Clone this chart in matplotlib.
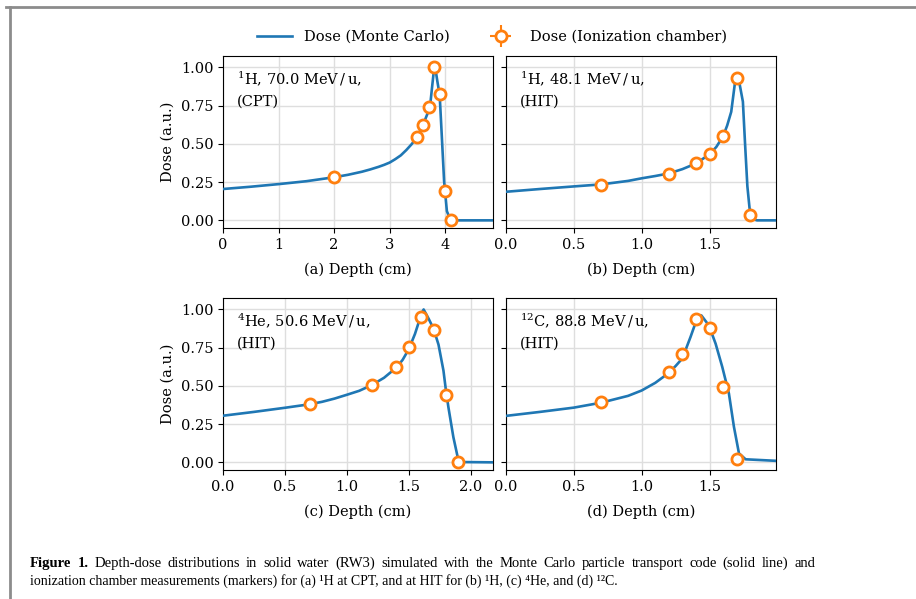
import numpy as np
import matplotlib
matplotlib.use('Agg')
import matplotlib.pyplot as plt
from matplotlib.lines import Line2D
from matplotlib.ticker import FormatStrFormatter
from matplotlib.container import ErrorbarContainer
from matplotlib.legend_handler import HandlerErrorbar

plt.rcParams['font.family'] = ['DejaVu Serif']
plt.rcParams['mathtext.fontset'] = 'dejavuserif'
plt.rcParams['font.size'] = 10.5

# ── Monte Carlo depth-dose curves (depth in cm, dose normalised) ────────────
mc_depth_a = [0.0, 0.5, 1.0, 1.5, 2.0, 2.25, 2.5, 2.65, 2.8, 2.9, 3.0, 3.1,
              3.2, 3.3, 3.4, 3.5, 3.6, 3.7, 3.73, 3.76, 3.79, 3.82, 3.86, 3.9,
              3.94, 3.98, 4.03, 4.09, 4.2, 4.5, 4.86]
mc_dose_a = [0.205, 0.22, 0.237, 0.256, 0.282, 0.298, 0.318, 0.333, 0.35,
             0.363, 0.378, 0.40, 0.425, 0.46, 0.5, 0.55, 0.625, 0.715, 0.755,
             0.86, 0.96, 1.0, 0.906, 0.82, 0.54, 0.256, 0.06, 0.006, 0.0, 0.0,
             0.0]

mc_depth_b = [0.0, 0.25, 0.5, 0.7, 0.9, 1.0, 1.1, 1.2, 1.3, 1.4, 1.5, 1.55,
              1.6, 1.63, 1.66, 1.69, 1.705, 1.72, 1.746, 1.762, 1.779, 1.795,
              1.816, 1.835, 1.85, 1.99]
mc_dose_b = [0.187, 0.205, 0.222, 0.235, 0.258, 0.275, 0.29, 0.307, 0.335,
             0.372, 0.432, 0.48, 0.55, 0.62, 0.71, 0.917, 0.956, 0.9, 0.776,
             0.5, 0.223, 0.08, 0.018, 0.004, 0.0, 0.0]

mc_depth_c = [0.0, 0.25, 0.5, 0.7, 0.8, 0.9, 1.0, 1.1, 1.2, 1.3, 1.4, 1.45,
              1.5, 1.55, 1.585, 1.6, 1.62, 1.66, 1.7, 1.74, 1.78, 1.8, 1.82,
              1.86, 1.9, 1.93, 2.18]
mc_dose_c = [0.305, 0.33, 0.357, 0.38, 0.396, 0.417, 0.442, 0.468, 0.505,
             0.553, 0.62, 0.67, 0.74, 0.84, 0.928, 0.97, 1.0, 0.94, 0.874,
             0.77, 0.6, 0.47, 0.36, 0.165, 0.015, 0.002, 0.0]

mc_depth_d = [0.0, 0.25, 0.5, 0.7, 0.9, 1.0, 1.1, 1.2, 1.25, 1.3, 1.36, 1.4,
              1.44, 1.495, 1.545, 1.594, 1.643, 1.68, 1.717, 1.766, 1.99]
mc_dose_d = [0.304, 0.33, 0.358, 0.39, 0.435, 0.47, 0.52, 0.585, 0.63, 0.68,
             0.82, 0.92, 0.961, 0.896, 0.776, 0.624, 0.45, 0.232, 0.059, 0.02,
             0.01]

# ── Ionization chamber measurements ─────────────────────────────────────────
ic_depth_a = [2.0, 3.5, 3.6, 3.7, 3.8, 3.9, 4.0, 4.1]
ic_dose_a = [0.283, 0.546, 0.623, 0.74, 1.0, 0.824, 0.195, 0.0]

ic_depth_b = [0.7, 1.2, 1.4, 1.5, 1.6, 1.7, 1.8]
ic_dose_b = [0.232, 0.306, 0.375, 0.436, 0.555, 0.93, 0.035]

ic_depth_c = [0.7, 1.2, 1.4, 1.5, 1.6, 1.7, 1.8, 1.9]
ic_dose_c = [0.38, 0.504, 0.624, 0.754, 0.95, 0.863, 0.439, 0.004]

ic_depth_d = [0.7, 1.2, 1.3, 1.4, 1.5, 1.6, 1.7]
ic_dose_d = [0.395, 0.591, 0.706, 0.939, 0.878, 0.493, 0.022]

# positioning and dose uncertainties of the chamber
depth_err = 0.01
dose_err = 0.01

beam_labels = ['$^{1}$H, 70.0 MeV$\\,/\\,$u,\n(CPT)',
               '$^{1}$H, 48.1 MeV$\\,/\\,$u,\n(HIT)',
               '$^{4}$He, 50.6 MeV$\\,/\\,$u,\n(HIT)',
               '$^{12}$C, 88.8 MeV$\\,/\\,$u,\n(HIT)']
panel_letters = ['a', 'b', 'c', 'd']
depth_limits = [4.86, 1.99, 2.18, 1.99]

caption_line1 = ('Depth-dose distributions in solid water (RW3) simulated with the '
                 'Monte Carlo particle transport code (solid line) and')
caption_line2 = ('ionization chamber measurements (markers) for (a) \u00b9H at CPT, '
                 'and at HIT for (b) \u00b9H, (c) \u2074He, and (d) \u00b9\u00b2C.')

mc_depths = [mc_depth_a, mc_depth_b, mc_depth_c, mc_depth_d]
mc_doses = [mc_dose_a, mc_dose_b, mc_dose_c, mc_dose_d]
ic_depths = [ic_depth_a, ic_depth_b, ic_depth_c, ic_depth_d]
ic_doses = [ic_dose_a, ic_dose_b, ic_dose_c, ic_dose_d]

# ── Figure ──────────────────────────────────────────────────────────────────
W, H = 916, 599
fig = plt.figure(figsize=(W / 100, H / 100), dpi=100)

def px_axes(left, top, right, bottom):
    return fig.add_axes([left / W, 1 - bottom / H, (right - left) / W, (bottom - top) / H])

axes = [px_axes(223, 56, 493, 228), px_axes(506, 56, 776, 228),
        px_axes(223, 298, 493, 470), px_axes(506, 298, 776, 470)]

for i, ax in enumerate(axes):
    ax.plot(mc_depths[i], mc_doses[i], color='#1f77b4', lw=1.9,
            label='Dose (Monte Carlo)', zorder=3)
    ax.errorbar(ic_depths[i], ic_doses[i], xerr=depth_err, yerr=dose_err,
                fmt='o', ms=8, mfc='white', mec='#ff7f0e', mew=2.0,
                ecolor='#ff7f0e', elinewidth=1.5, zorder=4,
                label='Dose (Ionization chamber)')
    ax.set_xlim(0, depth_limits[i])
    ax.set_ylim(-0.05, 1.075)
    ax.set_yticks([0.0, 0.25, 0.5, 0.75, 1.0])
    ax.grid(True, color='#dedede', lw=1.0)
    ax.set_axisbelow(True)
    ax.set_xlabel(f'({panel_letters[i]}) Depth (cm)', labelpad=8)
    if i % 2 == 0:
        ax.set_ylabel('Dose (a.u.)')
        ax.yaxis.set_major_formatter(FormatStrFormatter('%.2f'))
    else:
        ax.set_yticklabels([])
    ax.text(0.052, 0.92, beam_labels[i], transform=ax.transAxes,
            ha='left', va='top', linespacing=1.55)

handles, labels = axes[0].get_legend_handles_labels()
fig.legend(handles, labels, loc='center', bbox_to_anchor=(0.537, 1 - 37 / H),
           ncol=2, frameon=False, columnspacing=2.3, handlelength=2.4,
           handler_map={ErrorbarContainer: HandlerErrorbar(xerr_size=0.75)})

# ── Page frame and caption ──────────────────────────────────────────────────
frame_kw = dict(color='#8c8c8c', lw=2.0, transform=fig.transFigure)
fig.add_artist(Line2D([6 / W, 1.0], [1 - 7 / H, 1 - 7 / H], **frame_kw))
fig.add_artist(Line2D([10 / W, 10 / W], [1 - 7 / H, 0.0], **frame_kw))

cap_fonts = ['Liberation Serif', 'DejaVu Serif']
cap_left, cap_right = 30, 815

# first caption line is set justified between the page margins
words = [('Figure', 'bold'), ('1.', 'bold')] + [(w, 'normal') for w in caption_line1.split()]
word_texts = [fig.text(0, 1 - 570 / H, w, weight=wt, family=cap_fonts,
                       size=10.5, va='bottom') for w, wt in words]
renderer = fig.canvas.get_renderer()
widths = [t.get_window_extent(renderer).width for t in word_texts]
gap = (cap_right - cap_left - sum(widths)) / (len(widths) - 1)
x = cap_left
for t, w in zip(word_texts, widths):
    t.set_x(x / W)
    x += w + gap

fig.text(cap_left / W, 1 - 588 / H, caption_line2, family=cap_fonts,
         size=10, va='bottom')

fig.savefig('out.png', dpi=100)
